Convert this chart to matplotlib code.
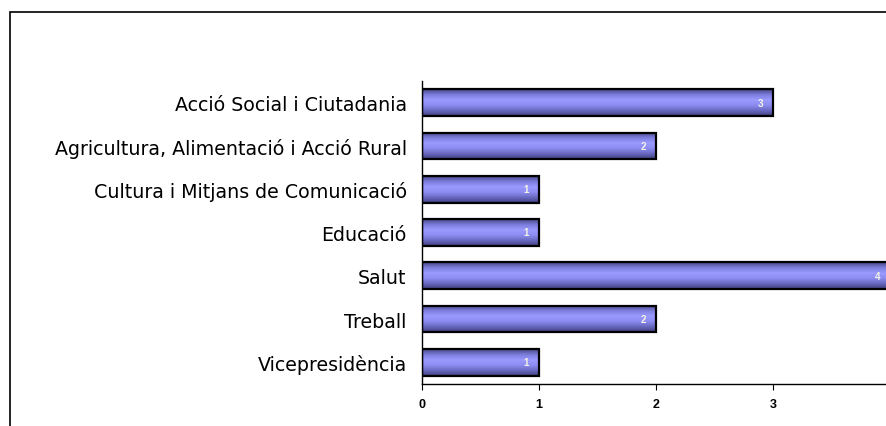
import matplotlib.pyplot as plt
import numpy as np
import matplotlib.colors as mcolors
from matplotlib.patches import Rectangle

categories = ['Acció Social i Ciutadania',
              'Agricultura, Alimentació i Acció Rural',
              'Cultura i Mitjans de Comunicació',
              'Educació',
              'Salut',
              'Treball',
              'Vicepresidència']
values = [3, 2, 1, 1, 4, 2, 1]
xticks = [0, 1, 2, 3, 4]

plt.rcParams['font.family'] = ['Liberation Sans', 'DejaVu Sans']

W, H = 886, 427
fig = plt.figure(figsize=(W / 100, H / 100), dpi=100)

# outer frame (only left and top are visible, the rest is cut off)
fig.add_artist(Rectangle((10 / W, -0.1), 1.2, (H - 13) / H + 0.1,
                         transform=fig.transFigure, fill=False,
                         edgecolor='black', linewidth=1.2))

left, right = 422 / W, 890 / W
top, bottom = 1 - 82 / H, 1 - 385 / H
ax = fig.add_axes([left, bottom, right - left, top - bottom])

n = len(categories)
ypos = np.arange(n)[::-1]
bar_h = 0.62

cmap = mcolors.LinearSegmentedColormap.from_list(
    'barfill', ['#464684', '#7c7cdc', '#9a9aff', '#8c8cf2', '#6868c0', '#404080'])
grad = np.linspace(0, 1, 64).reshape(-1, 1)

bars = ax.barh(ypos, values, height=bar_h, color='none',
               edgecolor='black', linewidth=1.6, zorder=3)
for b, v in zip(bars, values):
    x0, y0 = b.get_x(), b.get_y()
    w, h = b.get_width(), b.get_height()
    im = ax.imshow(grad, cmap=cmap, aspect='auto', origin='upper',
                   extent=[x0, x0 + w, y0, y0 + h], zorder=2)
    im.set_clip_path(b)
    ax.text(v - 0.11, y0 + h / 2, str(v), ha='center', va='center',
            fontsize=7, fontweight='bold', color='#f4f4e6', zorder=4)

ax.set_xlim(0, 4)
ax.set_ylim(-0.5, n - 0.5)
ax.set_xticks(xticks)
ax.set_xticklabels([str(t) for t in xticks], fontsize=9, fontweight='bold')
ax.set_yticks(ypos)
ax.set_yticklabels(categories, fontsize=13.7, family=['DejaVu Sans'])
ax.tick_params(axis='y', which='major', length=0, pad=11)
ax.tick_params(axis='x', length=4, direction='out', pad=6)

for s in ['top', 'right']:
    ax.spines[s].set_visible(False)
ax.spines['left'].set_linewidth(1)
ax.spines['bottom'].set_linewidth(1)

fig.savefig('out.png', dpi=100)
